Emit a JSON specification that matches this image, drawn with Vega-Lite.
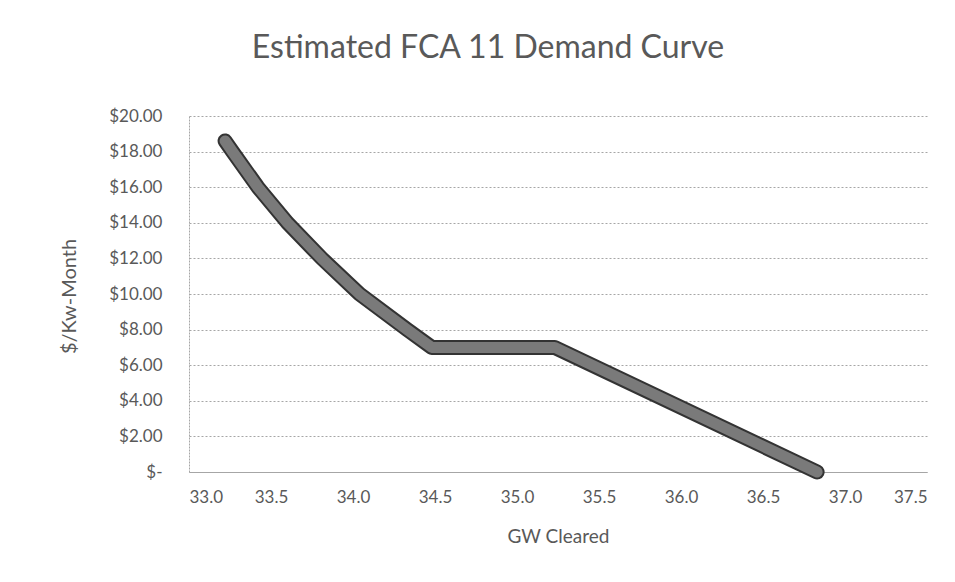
{
  "$schema": "https://vega.github.io/schema/vega-lite/v6.json",
  "width": 738,
  "height": 356,
  "autosize": {"type": "none"},
  "padding": {"left": 189, "top": 116, "right": 28, "bottom": 110},
  "background": "white",
  "config": {
    "view": {"stroke": null},
    "font": "Lato"
  },
  "title": {
    "text": "Estimated FCA 11 Demand Curve",
    "fontSize": 32,
    "fontWeight": "normal",
    "color": "#595959",
    "font": "Lato",
    "anchor": "middle",
    "dx": -70,
    "offset": 42
  },
  "data": {
    "values": [
      {"gw": 33.22, "price": 18.6},
      {"gw": 33.265, "price": 18.0},
      {"gw": 33.42, "price": 16.0},
      {"gw": 33.60, "price": 14.0},
      {"gw": 33.81, "price": 12.0},
      {"gw": 34.04, "price": 10.0},
      {"gw": 34.33, "price": 8.0},
      {"gw": 34.48, "price": 7.0},
      {"gw": 35.23, "price": 7.0},
      {"gw": 36.83, "price": 0.0}
    ]
  },
  "encoding": {
    "x": {
      "field": "gw",
      "type": "quantitative",
      "scale": {"domain": [33, 37.5], "nice": false, "zero": false},
      "axis": {
        "title": "GW Cleared",
        "values": [33, 33.5, 34, 34.5, 35, 35.5, 36, 36.5, 37, 37.5],
        "format": ".1f",
        "grid": false,
        "ticks": false,
        "domainColor": "#a6a6a6",
        "domainWidth": 1,
        "labelFont": "Lato",
        "labelFontSize": 17,
        "labelColor": "#595959",
        "labelPadding": 17,
        "titleFont": "Lato",
        "titleFontSize": 19,
        "titleFontWeight": "normal",
        "titleColor": "#595959",
        "titleX": 369,
        "titleY": 64,
        "titleBaseline": "middle",
        "titleAlign": "center"
      }
    },
    "y": {
      "field": "price",
      "type": "quantitative",
      "scale": {"domain": [0, 20], "nice": false},
      "axis": {
        "title": "$/Kw-Month",
        "values": [0, 2, 4, 6, 8, 10, 12, 14, 16, 18, 20],
        "labelExpr": "datum.value == 0 ? '$-\u00a0\u00a0\u00a0' : '$' + format(datum.value, '.2f')",
        "grid": true,
        "gridColor": "#a6a6a6",
        "gridDash": [2, 2],
        "gridWidth": 1,
        "ticks": false,
        "domainColor": "#a6a6a6",
        "domainDash": [2, 1],
        "domainWidth": 1,
        "labelFont": "Lato",
        "labelFontSize": 17,
        "labelColor": "#595959",
        "labelPadding": 27,
        "titleFont": "Lato",
        "titleFontSize": 20,
        "titleFontWeight": "normal",
        "titleColor": "#595959",
        "titleAngle": -90,
        "titleX": -120,
        "titleY": 180,
        "titleAlign": "center",
        "titleBaseline": "middle"
      }
    }
  },
  "layer": [
    {
      "mark": {"type": "line", "color": "#333333", "strokeWidth": 15, "strokeCap": "round", "strokeJoin": "round"}
    },
    {
      "mark": {"type": "line", "color": "#7a7a7a", "strokeWidth": 11, "strokeCap": "round", "strokeJoin": "round"}
    }
  ]
}
